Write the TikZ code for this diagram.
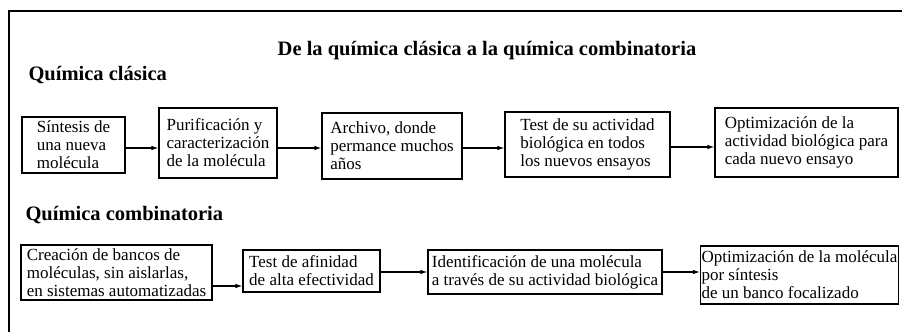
\documentclass[tikz,border=0pt]{standalone}
\usepackage{fontspec}
\setmainfont{Liberation Serif}
\usetikzlibrary{arrows.meta}

\begin{document}
\begin{tikzpicture}[x=1pt, y=-1pt,
    caja/.style={draw, line width=1.1pt, align=left, inner xsep=3pt, inner ysep=0pt,
                 font=\fontsize{17}{18}\selectfont},
    flecha/.style={line width=1.1pt, -{Latex[length=7pt,width=4.5pt]}},
    titulo/.style={font=\fontsize{20.5}{24}\selectfont\bfseries}]
    \useasboundingbox (0,0) rectangle (902,332);
    \draw[line width=1.3pt] (902,11) -- (9,11) -- (9,332);
    \node[titulo] (tit) at (487,51) {De la química clásica a la química combinatoria};
    \node[titulo, anchor=west] (clasica) at (25,75) {Química clásica};
    \node[titulo, anchor=west] (combi) at (22,215) {Química combinatoria};
    % quimica clasica
    \node[caja, minimum width=103, minimum height=56] (s1) at (73.5,145) {Síntesis de\\una nueva\\molécula};
    \node[caja, minimum width=118, minimum height=70] (s2) at (218,143) {Purificación y\\caracterización\\de la molécula};
    \node[caja, minimum width=140, minimum height=66] (s3) at (392,146) {Archivo, donde\\permance muchos\\años};
    \node[caja, minimum width=165, minimum height=65] (s4) at (587.5,144.5) {Test de su actividad\\biológica en todos\\los nuevos ensayos};
    \node[caja, minimum width=183, minimum height=69] (s5) at (806.5,142.5) {Optimización de la\\actividad biológica para\\cada nuevo ensayo};
    \draw[flecha] ([yshift=-3pt]s1.east) -- ([yshift=-3pt]s1.east -| s2.west);
    \draw[flecha] ([yshift=-5pt]s2.east) -- ([yshift=-5pt]s2.east -| s3.west);
    \draw[flecha] ([yshift=-2pt]s3.east) -- ([yshift=-2pt]s3.east -| s4.west);
    \draw[flecha] ([yshift=-2.5pt]s4.east) -- ([yshift=-2.5pt]s4.east -| s5.west);
    % quimica combinatoria
    \node[caja, minimum width=191, minimum height=55] (b1) at (116.5,272.5) {Creación de bancos de\\moléculas, sin aislarlas,\\en sistemas automatizadas};
    \node[caja, minimum width=137, minimum height=42] (b2) at (311.5,271) {Test de afinidad\\de alta efectividad};
    \node[caja, minimum width=234, minimum height=44, inner xsep=1pt] (b3) at (545,272) {Identificación de una molécula\\a través de su actividad biológica};
    \node[caja, minimum width=197, minimum height=58, inner xsep=1pt] (b4) at (799.5,275) {Optimización de la molécula\\por síntesis\\de un banco focalizado};
    \draw[flecha] ([yshift=-13.5pt]b1.east) -- ([yshift=-13.5pt]b1.east -| b2.west);
    \draw[flecha] ([yshift=-1pt]b2.east) -- ([yshift=-1pt]b2.east -| b3.west);
    \draw[flecha] (b3.east) -- (b3.east -| b4.west);
\end{tikzpicture}
\end{document}
